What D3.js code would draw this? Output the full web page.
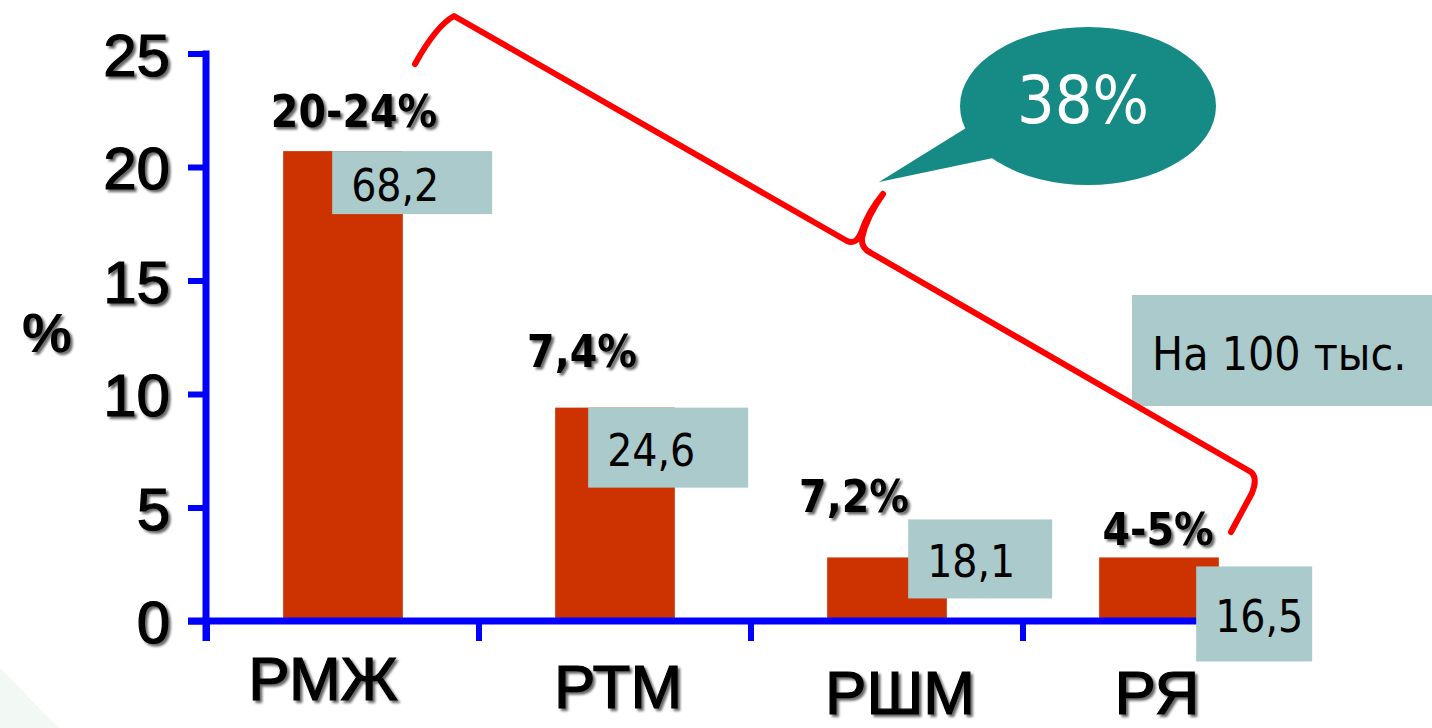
<!DOCTYPE html>
<html>
<head>
<meta charset="utf-8">
<script src="https://cdn.jsdelivr.net/npm/d3@7/dist/d3.min.js"></script>
<style>
  html, body { margin: 0; padding: 0; background: #ffffff; overflow: hidden; }
  svg { display: block; }
</style>
</head>
<body>
<svg id="chart" width="1432" height="728"></svg>
<script>
// Chart data
const categories = ["РМЖ", "РТМ", "РШМ", "РЯ"];
const shareValues = [20.7, 9.4, 2.8, 2.8];          // % (bar heights)
const shareLabels = ["20-24%", "7,4%", "7,2%", "4-5%"];
const ratePer100k = [68.2, 24.6, 18.1, 16.5];       // per 100 thousand
const yTicks = [0, 5, 10, 15, 20, 25];
const yTitle = "%";
const unitNote = "На 100 тыс.";
const calloutText = "38%";

// Placement of the annotations around each bar (px)
const rateBoxLayout = [
  { dx: 49, dy: 0,   w: 160, h: 63 },
  { dx: 33, dy: 0,   w: 160, h: 80 },
  { dx: 81, dy: -38, w: 144, h: 79 },
  { dx: 97, dy: 9,   w: 116, h: 95 }
];
const shareLabelLayout = [
  { dx: 11, dy: -24 }, { dx: -33, dy: -41 }, { dx: -33, dy: -45 }, { dx: -1, dy: -12 }
];
const categoryLabelLayout = [
  { dx: -20, y: 700 }, { dx: 3, y: 708 }, { dx: 13, y: 714 }, { dx: -2, y: 714 }
];

const COLORS = {
  bar: "#cc3300",
  axis: "#0000ff",
  box: "#aacacc",
  bubble: "#168a84",
  brace: "#ff0000",
  text: "#000000"
};

const svg = d3.select("#chart");
const defs = svg.append("defs");
const shadow = defs.append("filter").attr("id", "shadow")
  .attr("x", "-10%").attr("y", "-10%").attr("width", "130%").attr("height", "130%");
shadow.append("feDropShadow")
  .attr("dx", 2.5).attr("dy", 2.5).attr("stdDeviation", 1.2)
  .attr("flood-color", "#000").attr("flood-opacity", 0.6);

// faint decoration in the lower-left corner
svg.append("path")
  .attr("d", "M0,668 L58,728 L0,728 Z")
  .attr("fill", "#f2f8f4");

// Scales
const y = d3.scaleLinear().domain([0, 25]).range([621, 53.5]);
const x = d3.scaleBand().domain(categories).range([207, 1295])
  .paddingInner(0.56).paddingOuter(0.28);
const step = x.step();
const x0 = x.range()[0], x1 = x.range()[1];

const fmt = v => d3.format(".1f")(v).replace(".", ",");

// Bars
svg.append("g").selectAll("rect")
  .data(categories)
  .join("rect")
  .attr("x", d => x(d))
  .attr("y", (d, i) => y(shareValues[i]))
  .attr("width", x.bandwidth())
  .attr("height", (d, i) => y(0) - y(shareValues[i]))
  .attr("fill", COLORS.bar);

// Y axis (ticks + labels)
const yAxis = d3.axisLeft(y).tickValues(yTicks).tickSize(18).tickPadding(18).tickSizeOuter(0);
const gy = svg.append("g").attr("transform", `translate(${x0 - 1},0)`).call(yAxis);
gy.select(".domain").remove();
gy.selectAll(".tick line").attr("stroke", COLORS.axis).attr("stroke-width", 6);
gy.selectAll(".tick text")
  .attr("fill", COLORS.text)
  .attr("stroke", COLORS.text)
  .attr("stroke-width", 1.2)
  .attr("font-family", "'Liberation Sans', Arial, sans-serif")
  .attr("font-size", 60)
  .attr("dy", "0.36em")
  .attr("filter", "url(#shadow)");

// X axis ticks at band boundaries
const xTickPos = d3.range(categories.length + 1).map(i => x0 + i * step);
svg.append("g").selectAll("line")
  .data(xTickPos)
  .join("line")
  .attr("x1", d => d).attr("x2", d => d)
  .attr("y1", y(0)).attr("y2", y(0) + 20)
  .attr("stroke", COLORS.axis).attr("stroke-width", 6);

// Axis lines
svg.append("line")
  .attr("x1", x0 - 1).attr("x2", x0 - 1)
  .attr("y1", y(25) - 3).attr("y2", y(0) + 20)
  .attr("stroke", COLORS.axis).attr("stroke-width", 7);
svg.append("line")
  .attr("x1", x0 - 19).attr("x2", x1)
  .attr("y1", y(0)).attr("y2", y(0))
  .attr("stroke", COLORS.axis).attr("stroke-width", 7);

// Y title
svg.append("text")
  .attr("x", 47).attr("y", 352)
  .attr("text-anchor", "middle")
  .attr("font-family", "'Liberation Sans', Arial, sans-serif")
  .attr("font-size", 56)
  .attr("font-weight", "bold")
  .attr("filter", "url(#shadow)")
  .text(yTitle);

// Category labels
svg.append("g").selectAll("text")
  .data(categories)
  .join("text")
  .attr("x", (d, i) => x(d) + x.bandwidth() / 2 + categoryLabelLayout[i].dx)
  .attr("y", (d, i) => categoryLabelLayout[i].y)
  .attr("text-anchor", "middle")
  .attr("font-family", "'Liberation Sans', Arial, sans-serif")
  .attr("font-size", 62)
  .attr("fill", COLORS.text)
  .attr("stroke", COLORS.text)
  .attr("stroke-width", 1.2)
  .attr("filter", "url(#shadow)")
  .text(d => d);

// Share labels above bars
svg.append("g").selectAll("text")
  .data(categories)
  .join("text")
  .attr("x", (d, i) => x(d) + x.bandwidth() / 2 + shareLabelLayout[i].dx)
  .attr("y", (d, i) => y(shareValues[i]) + shareLabelLayout[i].dy)
  .attr("text-anchor", "middle")
  .attr("font-family", "'DejaVu Sans Condensed', 'DejaVu Sans', sans-serif")
  .attr("font-stretch", "condensed")
  .attr("font-weight", "bold")
  .attr("font-size", 44)
  .attr("fill", COLORS.text)
  .attr("filter", "url(#shadow)")
  .text((d, i) => shareLabels[i]);

// Rate boxes
const boxes = svg.append("g").selectAll("g")
  .data(categories)
  .join("g")
  .attr("transform", (d, i) =>
    `translate(${x(d) + rateBoxLayout[i].dx},${y(shareValues[i]) + rateBoxLayout[i].dy})`);
boxes.append("rect")
  .attr("width", (d, i) => rateBoxLayout[i].w)
  .attr("height", (d, i) => rateBoxLayout[i].h)
  .attr("fill", COLORS.box);
boxes.append("text")
  .attr("x", 19)
  .attr("y", (d, i) => rateBoxLayout[i].h / 2 + 18)
  .attr("font-family", "'DejaVu Sans Condensed', 'DejaVu Sans', sans-serif")
  .attr("font-stretch", "condensed")
  .attr("font-size", 44)
  .attr("fill", COLORS.text)
  .text((d, i) => fmt(ratePer100k[i]));

// Unit note box
svg.append("rect")
  .attr("x", 1132).attr("y", 295).attr("width", 300).attr("height", 111)
  .attr("fill", COLORS.box);
svg.append("text")
  .attr("x", 1152).attr("y", 370)
  .attr("font-family", "'DejaVu Sans Condensed', 'DejaVu Sans', sans-serif")
  .attr("font-stretch", "condensed")
  .attr("font-size", 46)
  .attr("fill", COLORS.text)
  .text(unitNote);

// Brace spanning the bars
svg.append("path")
  .attr("d", "M415,64 Q436,26 454,16 L847,241 Q856,245 861,233 Q868,212 883,194 " +
             "M883,194 Q866,218 862,238 Q861,248 871,253 L1251,472 Q1258,478 1252,493 L1231,532")
  .attr("fill", "none")
  .attr("stroke", COLORS.brace)
  .attr("stroke-width", 6)
  .attr("stroke-linecap", "round")
  .attr("stroke-linejoin", "round");

// Callout bubble
svg.append("polygon")
  .attr("points", "966,128 879,182 998,157")
  .attr("fill", COLORS.bubble);
svg.append("ellipse")
  .attr("cx", 1088).attr("cy", 106).attr("rx", 128).attr("ry", 79)
  .attr("fill", COLORS.bubble);
svg.append("text")
  .attr("x", 1083).attr("y", 123)
  .attr("text-anchor", "middle")
  .attr("font-family", "'DejaVu Sans Condensed', 'DejaVu Sans', sans-serif")
  .attr("font-stretch", "condensed")
  .attr("font-weight", 300)
  .attr("font-size", 66)
  .attr("fill", "#ffffff")
  .text(calloutText);
</script>
</body>
</html>
